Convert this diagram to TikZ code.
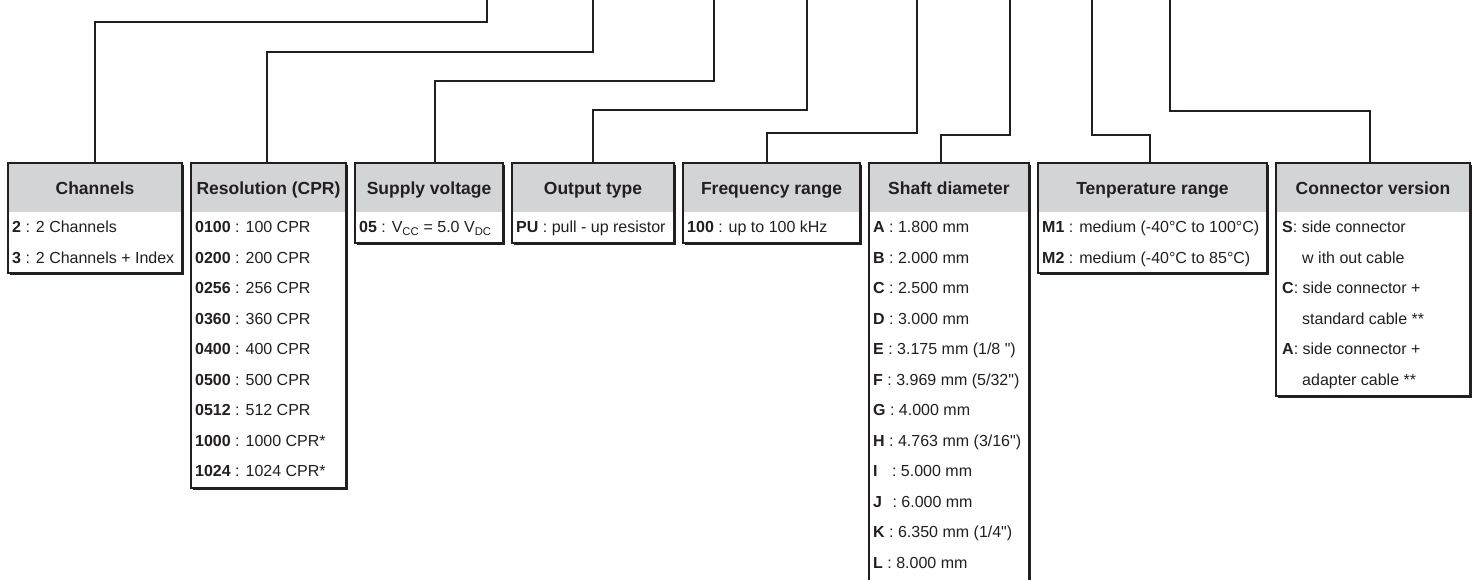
\documentclass[tikz,border=0pt]{standalone}
\usepackage{fontspec}
\setmainfont{Liberation Sans}[Ligatures=TeXOff]
\definecolor{ink}{HTML}{231F20}
\definecolor{hdr}{HTML}{D3D4D6}
\tikzset{
  box/.style={draw=ink, line width=1.6pt, fill=white, inner sep=0pt, outer sep=0pt, anchor=north west},
  boxline/.style={draw=ink, line width=1.6pt},
  hdrtxt/.style={font=\fontsize{17.5}{20}\selectfont\bfseries, text=ink, inner sep=0pt, anchor=base},
  rowtxt/.style={font=\fontsize{16}{19}\selectfont, text=ink, inner sep=0pt, anchor=base west},
  wire/.style={draw=ink, line width=1.4pt},
}
\newcommand\obox[5]{%
  \fill[ink] (#2+1.6,164.6) rectangle (#3+1.6,#4+1.6);
  \node[box, minimum width={#3-#2}, minimum height={#4-163}] (#1) at (#2,163) {};
  \fill[hdr] (#2,163) rectangle (#3,212);
  \draw[boxline] (#1.north west) rectangle (#1.south east);
  \node[hdrtxt] (#1-t) at ({(#2+#3)/2},194.5) {#5};
}
\newcommand\orow[4]{\node[rowtxt] (#1) at (#2,#3+5.8) {#4};}
\begin{document}
\begin{tikzpicture}[x=1pt,y=-1pt]
\clip (0,0) rectangle (1474,580);
\fill[white] (0,0) rectangle (1474,580);

% boxes
\obox{ch}{8}{182}{273}{Channels}
\obox{res}{191}{346}{488}{Resolution (CPR)}
\obox{sv}{355}{503}{243}{Supply voltage}
\obox{ot}{512}{674}{243}{Output type}
\obox{fr}{683}{860}{243}{Frequency range}
\obox{sd}{869}{1029}{600}{Shaft diameter}
\obox{tr}{1038}{1267}{273}{Tenperature range}
\obox{cv}{1276}{1470}{396}{Connector version}

% rows: Channels
\orow{ch1}{12}{227}{\textbf{2} : 2 Channels}
\orow{ch2}{12}{257.5}{\textbf{3} : 2 Channels + Index}
% Resolution
\orow{re1}{195}{227}{\textbf{0100} : 100 CPR}
\orow{re2}{195}{257.5}{\textbf{0200} : 200 CPR}
\orow{re3}{195}{288}{\textbf{0256} : 256 CPR}
\orow{re4}{195}{318.5}{\textbf{0360} : 360 CPR}
\orow{re5}{195}{349}{\textbf{0400} : 400 CPR}
\orow{re6}{195}{379.5}{\textbf{0500} : 500 CPR}
\orow{re7}{195}{410}{\textbf{0512} : 512 CPR}
\orow{re8}{195}{440.5}{\textbf{1000} : 1000 CPR*}
\orow{re9}{195}{471}{\textbf{1024} : 1024 CPR*}
% Supply
\orow{sv1}{359}{227}{\textbf{05} : V\textsubscript{CC} = 5.0 V\textsubscript{DC}}
% Output
\orow{ot1}{516}{227}{\textbf{PU} : pull - up resistor}
% Frequency
\orow{fr1}{687}{227}{\textbf{100} : up to 100 kHz}
% Shaft
\orow{sd1}{873}{227}{\textbf{A} : 1.800 mm}
\orow{sd2}{873}{257.5}{\textbf{B} : 2.000 mm}
\orow{sd3}{873}{288}{\textbf{C} : 2.500 mm}
\orow{sd4}{873}{318.5}{\textbf{D} : 3.000 mm}
\orow{sd5}{873}{349}{\textbf{E} : 3.175 mm (1/8 ")}
\orow{sd6}{873}{379.5}{\textbf{F} : 3.969 mm (5/32")}
\orow{sd7}{873}{410}{\textbf{G} : 4.000 mm}
\orow{sd8}{873}{440.5}{\textbf{H} : 4.763 mm (3/16")}
\orow{sd9}{873}{471}{\textbf{I}\hspace{10pt} : 5.000 mm}
\orow{sd10}{873}{501.5}{\textbf{J}\hspace{6pt} : 6.000 mm}
\orow{sd11}{873}{532}{\textbf{K} : 6.350 mm (1/4")}
\orow{sd12}{873}{562.5}{\textbf{L} : 8.000 mm}
% Temperature
\orow{tr1}{1042}{227}{\textbf{M1} : medium (-40°C to 100°C)}
\orow{tr2}{1042}{257.5}{\textbf{M2} : medium (-40°C to 85°C)}
% Connector
\orow{cv1}{1282}{227}{\textbf{S}: side connector}
\orow{cv2}{1302}{257.5}{w ith out cable}
\orow{cv3}{1282}{288}{\textbf{C}: side connector +}
\orow{cv4}{1302}{318.5}{standard cable **}
\orow{cv5}{1282}{349}{\textbf{A}: side connector +}
\orow{cv6}{1302}{379.5}{adapter cable **}

% top ends of the connectors
\coordinate (k1) at (487,0);
\coordinate (k2) at (593,0);
\coordinate (k3) at (714,0);
\coordinate (k4) at (807,0);
\coordinate (k5) at (917,0);
\coordinate (k6) at (1010,0);
\coordinate (k7) at (1092,0);
\coordinate (k8) at (1170,0);

\draw[wire] (ch.north) -- ++(0,-141) -| (k1);
\draw[wire] ([xshift=-1.5pt]res.north) -- ++(0,-111) -| (k2);
\draw[wire] ([xshift=6pt]sv.north) -- ++(0,-82) -| (k3);
\draw[wire] (ot.north) -- ++(0,-53) -| (k4);
\draw[wire] ([xshift=-4.5pt]fr.north) -- ++(0,-30) -| (k5);
\draw[wire] ([xshift=-8pt]sd.north) -- ++(0,-28) -| (k6);
\draw[wire] ([xshift=-2.5pt]tr.north) -- ++(0,-28) -| (k7);
\draw[wire] ([xshift=-3pt]cv.north) -- ++(0,-52) -| (k8);
\end{tikzpicture}
\end{document}
